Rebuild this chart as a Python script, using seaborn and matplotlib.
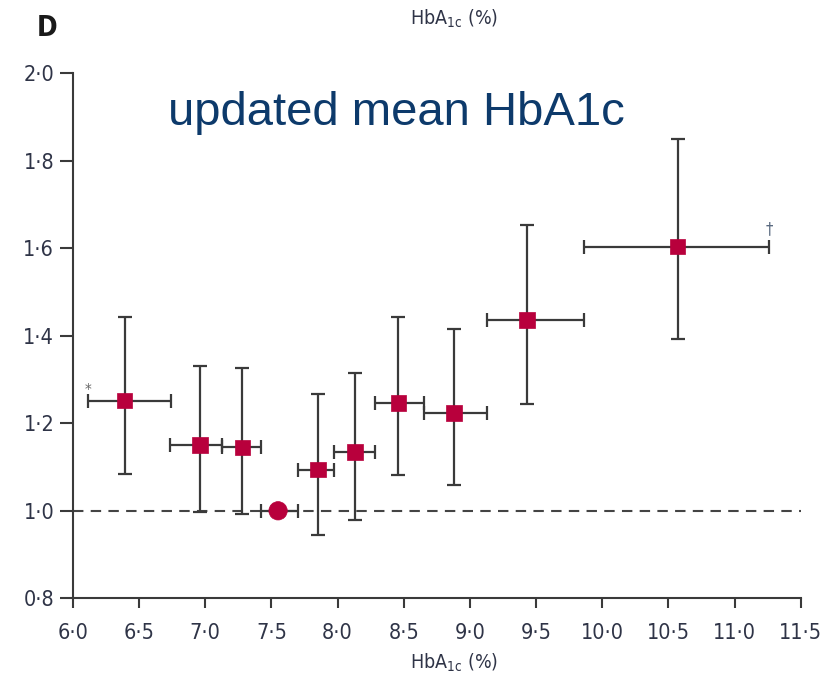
import numpy as np
import pandas as pd
import matplotlib
matplotlib.use("Agg")
import matplotlib.pyplot as plt
from matplotlib.ticker import FuncFormatter
import seaborn as sns

# ---- data ----
hba1c_mean = [6.39, 6.96, 7.28, 7.55, 7.85, 8.13, 8.46, 8.88, 9.43, 10.57]
hba1c_low = [6.11, 6.735, 7.125, 7.42, 7.70, 7.97, 8.28, 8.65, 9.13, 9.86]
hba1c_high = [6.74, 7.125, 7.42, 7.70, 7.97, 8.28, 8.65, 9.13, 9.86, 11.26]
hazard_ratio = [1.252, 1.151, 1.145, 1.0, 1.094, 1.134, 1.247, 1.224, 1.436, 1.604]
hr_low = [1.085, 0.997, 0.992, np.nan, 0.945, 0.979, 1.081, 1.060, 1.245, 1.392]
hr_high = [1.443, 1.331, 1.327, np.nan, 1.268, 1.315, 1.444, 1.416, 1.654, 1.849]
group = ["group"] * 3 + ["reference"] + ["group"] * 6
x_ticks = [6.0, 6.5, 7.0, 7.5, 8.0, 8.5, 9.0, 9.5, 10.0, 10.5, 11.0, 11.5]
y_ticks = [0.8, 1.0, 1.2, 1.4, 1.6, 1.8, 2.0]

df = pd.DataFrame({
    "x": hba1c_mean, "xlo": hba1c_low, "xhi": hba1c_high,
    "hr": hazard_ratio, "lo": hr_low, "hi": hr_high, "group": group,
})

sns.set_style("ticks")
plt.rcParams["font.family"] = ["DejaVu Sans"]
plt.rcParams["font.stretch"] = "condensed"

fig = plt.figure(figsize=(8.32, 6.83), dpi=100)
ax = fig.add_axes([73 / 832, 1 - 598.3 / 683, (800.7 - 73) / 832, (598.3 - 73.3) / 683])

line_col = "#3a3a3a"
mark_col = "#b8003c"

# reference dashed line
ax.axhline(1.0, color="#444444", lw=1.5, dashes=(5, 3.5), zorder=1)

# horizontal error bars (all)
ax.errorbar(df["x"], df["hr"],
            xerr=[df["x"] - df["xlo"], df["xhi"] - df["x"]],
            fmt="none", ecolor=line_col, elinewidth=1.6, capsize=5, capthick=1.6, zorder=2)
# vertical error bars (non-reference)
sub = df.dropna(subset=["lo", "hi"])
ax.errorbar(sub["x"], sub["hr"],
            yerr=[sub["hr"] - sub["lo"], sub["hi"] - sub["hr"]],
            fmt="none", ecolor=line_col, elinewidth=1.6, capsize=5, capthick=1.6, zorder=2)

sns.scatterplot(data=df, x="x", y="hr", style="group",
                markers={"group": "s", "reference": "o"},
                size="group", sizes={"group": 125, "reference": 175},
                color=mark_col, edgecolor=mark_col, linewidth=0.5,
                legend=False, ax=ax, zorder=3)

ax.set_xlim(6.0, 11.5)
ax.set_ylim(0.8, 2.0)
ax.set_xticks(x_ticks)
ax.set_yticks(y_ticks)
fmt = FuncFormatter(lambda v, p: f"{v:.1f}".replace(".", "\u00b7"))
ax.xaxis.set_major_formatter(fmt)
ax.yaxis.set_major_formatter(fmt)
ax.set_xlabel("")
ax.set_ylabel("")

tick_col = "#2f3447"
ax.tick_params(axis="y", direction="out", length=9.5, width=1.5, color=line_col,
               labelsize=15.5, labelcolor=tick_col, pad=4)
ax.tick_params(axis="x", direction="out", length=7, width=1.5, color=line_col,
               labelsize=15.5, labelcolor=tick_col, pad=11)
for s in ["top", "right"]:
    ax.spines[s].set_visible(False)
for s in ["left", "bottom"]:
    ax.spines[s].set_color(line_col)
    ax.spines[s].set_linewidth(1.5)

# annotations
ax.text(df["xlo"][0], df["hr"][0] + 0.005, "*", color="#666666", fontsize=11,
        ha="center", va="bottom")
ax.text(df["xhi"][9], df["hr"][9] + 0.02, "\u2020", color="#5a6a80", fontsize=12,
        ha="center", va="bottom")

ax.text(0.1305, 0.925, "updated mean HbA1c", transform=ax.transAxes,
        fontsize=34, color="#0d3a6b", family="Liberation Sans", stretch="normal",
        va="center", ha="left")

label = r"HbA$_{\mathregular{1c}}$ (%)"
fig.text(454 / 832, 1 - 663 / 683, label, ha="center", va="center",
         fontsize=14, color="#2f3447")
fig.text(454 / 832, 1 - 19 / 683, label, ha="center", va="center",
         fontsize=14, color="#2f3447")
fig.text(47 / 832, 1 - 28 / 683, "D", ha="center", va="center",
         fontsize=20, fontweight="bold", color="#1a1a1a")

fig.savefig("out.png", dpi=100)
